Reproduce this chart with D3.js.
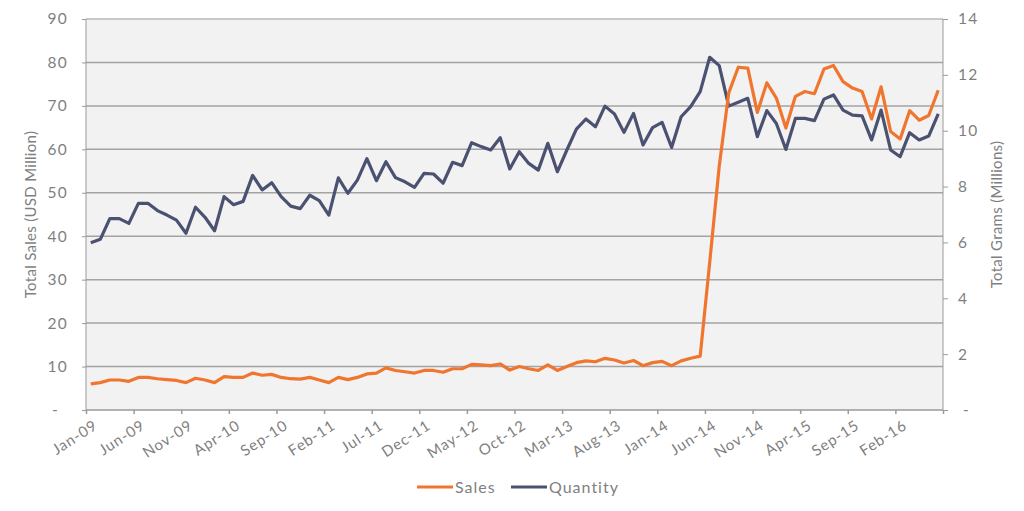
<!DOCTYPE html>
<html>
<head>
<meta charset="utf-8">
<script src="https://cdn.jsdelivr.net/npm/d3@7"></script>
<style>
  body { margin: 0; background: #fff; }
  text { font-family: Lato, "Open Sans", sans-serif; fill: #7f7f7f; letter-spacing: 0.3px; }
  .axis path, .axis line { stroke: #9a9a9a; }
</style>
</head>
<body>
<div id="chart"></div>
<script>
var svgWidth = 1024;
var svgHeight = 511;

var margin = { top: 19, right: 81, bottom: 101, left: 86 };
var width = svgWidth - margin.left - margin.right;
var height = svgHeight - margin.top - margin.bottom;

// monthly categories Jan-09 .. Jun-16
var months = d3.timeMonth.range(new Date(2009, 0, 1), new Date(2016, 6, 1));
var tickLabels = ["Jan-09", "Jun-09", "Nov-09", "Apr-10", "Sep-10", "Feb-11", "Jul-11", "Dec-11", "May-12",
  "Oct-12", "Mar-13", "Aug-13", "Jan-14", "Jun-14", "Nov-14", "Apr-15", "Sep-15", "Feb-16"];
var leftTicks = [0, 10, 20, 30, 40, 50, 60, 70, 80, 90];
var rightTicks = [0, 2, 4, 6, 8, 10, 12, 14];

// Total sales, USD million
var sales = [6.0, 6.3, 6.9, 6.9, 6.6, 7.5, 7.5, 7.2, 7.0, 6.8,
  6.3, 7.3, 6.9, 6.3, 7.7, 7.5, 7.5, 8.5, 8.0, 8.2,
  7.5, 7.2, 7.1, 7.5, 6.9, 6.3, 7.5, 7.0, 7.5, 8.3,
  8.5, 9.7, 9.1, 8.8, 8.5, 9.1, 9.1, 8.7, 9.5, 9.5,
  10.5, 10.4, 10.2, 10.6, 9.2, 10.0, 9.5, 9.1, 10.4, 9.1,
  10.0, 10.9, 11.3, 11.1, 11.9, 11.5, 10.8, 11.4, 10.2, 10.9,
  11.2, 10.2, 11.3, 11.9, 12.4, 34.0, 56.1, 73.0, 78.9, 78.7,
  68.5, 75.3, 71.8, 64.9, 72.2, 73.3, 72.8, 78.5, 79.3, 75.6,
  74.1, 73.3, 67.0, 74.4, 64.1, 62.4, 68.9, 66.7, 67.8, 73.6];

// Total grams, millions
var quantity = [5.99, 6.11, 6.85, 6.85, 6.68, 7.40, 7.40, 7.14, 6.98, 6.80,
  6.33, 7.26, 6.90, 6.42, 7.64, 7.35, 7.47, 8.40, 7.88, 8.14,
  7.64, 7.30, 7.21, 7.69, 7.50, 6.98, 8.31, 7.76, 8.23, 9.00,
  8.21, 8.89, 8.32, 8.17, 7.97, 8.47, 8.45, 8.12, 8.87, 8.75,
  9.57, 9.43, 9.31, 9.75, 8.63, 9.25, 8.83, 8.59, 9.55, 8.53,
  9.31, 10.06, 10.42, 10.14, 10.88, 10.60, 9.94, 10.62, 9.49, 10.11,
  10.30, 9.40, 10.50, 10.86, 11.40, 12.63, 12.33, 10.88, 11.02, 11.16,
  9.79, 10.72, 10.26, 9.33, 10.44, 10.44, 10.36, 11.13, 11.28, 10.74,
  10.56, 10.53, 9.67, 10.74, 9.31, 9.07, 9.93, 9.67, 9.81, 10.60];

var fmt = d3.timeFormat("%b-%y");

var svg = d3.select("#chart")
  .append("svg")
  .attr("width", svgWidth)
  .attr("height", svgHeight);

var chartGroup = svg.append("g")
  .attr("transform", `translate(${margin.left}, ${margin.top})`);

var xBand = d3.scaleBand()
  .domain(months.map(fmt))
  .range([0, width]);

var xEdge = d3.scaleLinear()
  .domain([0, months.length])
  .range([0, width]);

var yLeft = d3.scaleLinear().domain([0, 90]).range([height, 0]);
var yRight = d3.scaleLinear().domain([0, 14]).range([height, 0]);

var xc = d => xBand(d) + xBand.bandwidth() / 2;

// plot background
chartGroup.append("rect")
  .attr("width", width)
  .attr("height", height)
  .attr("fill", "#f2f2f2");

// gridlines
chartGroup.selectAll(".grid")
  .data(leftTicks.slice(1))
  .enter()
  .append("line")
  .attr("class", "grid")
  .attr("x1", 0)
  .attr("x2", width)
  .attr("y1", d => yLeft(d))
  .attr("y2", d => yLeft(d))
  .attr("stroke", d => d === 90 ? "#b8b8b8" : "#a3a3a3")
  .attr("stroke-width", 1.5);

// left axis
var leftAxis = chartGroup.append("g")
  .attr("class", "axis")
  .call(d3.axisLeft(yLeft).tickValues(leftTicks).tickSize(4).tickPadding(14)
    .tickFormat(d => d === 0 ? "-" : d));
leftAxis.select(".domain").attr("d", `M0,0V${height}`);
leftAxis.selectAll("text").style("font-size", "15.5px").style("letter-spacing", "1.2px")
  .attr("dx", d => d === 0 ? -9 : 0);

// right axis
var rightAxis = chartGroup.append("g")
  .attr("class", "axis")
  .attr("transform", `translate(${width}, 0)`)
  .call(d3.axisRight(yRight).tickValues(rightTicks).tickSize(5).tickPadding(10)
    .tickFormat(d => d === 0 ? "-" : d));
rightAxis.select(".domain").attr("d", `M0,0V${height}`);
rightAxis.selectAll("text").style("font-size", "15.5px").style("letter-spacing", "1.2px")
  .attr("dx", d => d === 0 ? 5 : 0);

// bottom axis ticks at category edges
var bottomAxis = chartGroup.append("g")
  .attr("class", "axis")
  .attr("transform", `translate(0, ${height})`)
  .call(d3.axisBottom(xEdge).tickValues(d3.range(0, months.length + 1, 5)).tickSize(4).tickFormat(""));
bottomAxis.select(".domain").attr("d", `M0,0H${width}`);
bottomAxis.selectAll("line, path").attr("stroke-width", 1.5);

// rotated category labels
chartGroup.append("g")
  .selectAll("text")
  .data(tickLabels)
  .enter()
  .append("text")
  .attr("transform", d => `translate(${xc(d) + 2}, ${height + 9}) rotate(-33)`)
  .attr("text-anchor", "end")
  .attr("dy", "0.71em")
  .style("font-size", "15px")
  .style("letter-spacing", "0.9px")
  .text(d => d);

// lines
var salesLine = d3.line()
  .x((d, i) => xc(fmt(months[i])))
  .y(d => yLeft(d));

var qtyLine = d3.line()
  .x((d, i) => xc(fmt(months[i])))
  .y(d => yRight(d));

chartGroup.append("path")
  .datum(quantity)
  .attr("d", qtyLine)
  .attr("fill", "none")
  .attr("stroke", "#4b5170")
  .attr("stroke-width", 3.2)
  .attr("stroke-linejoin", "round");

chartGroup.append("path")
  .datum(sales)
  .attr("d", salesLine)
  .attr("fill", "none")
  .attr("stroke", "#f07630")
  .attr("stroke-width", 3.2)
  .attr("stroke-linejoin", "round");

// axis titles
svg.append("text")
  .attr("transform", `translate(36, ${margin.top + height / 2}) rotate(-90)`)
  .attr("text-anchor", "middle")
  .style("font-size", "15px")
  .text("Total Sales (USD Million)");

svg.append("text")
  .attr("transform", `translate(1002, ${margin.top + height / 2}) rotate(-90)`)
  .attr("text-anchor", "middle")
  .style("font-size", "15px")
  .text("Total Grams (Millions)");

// legend
var legendItems = [
  { name: "Sales", color: "#f07630", x: 417 },
  { name: "Quantity", color: "#4b5170", x: 511 }
];

var legend = svg.append("g").attr("transform", "translate(0, 487)");
legendItems.forEach(function(item) {
  legend.append("line")
    .attr("x1", item.x).attr("x2", item.x + 36)
    .attr("y1", 0).attr("y2", 0)
    .attr("stroke", item.color)
    .attr("stroke-width", 3.2);
  legend.append("text")
    .attr("x", item.x + 38)
    .attr("y", 0)
    .attr("dy", "0.35em")
    .style("font-size", "16px")
    .style("letter-spacing", "1px")
    .text(item.name);
});
</script>
</body>
</html>
